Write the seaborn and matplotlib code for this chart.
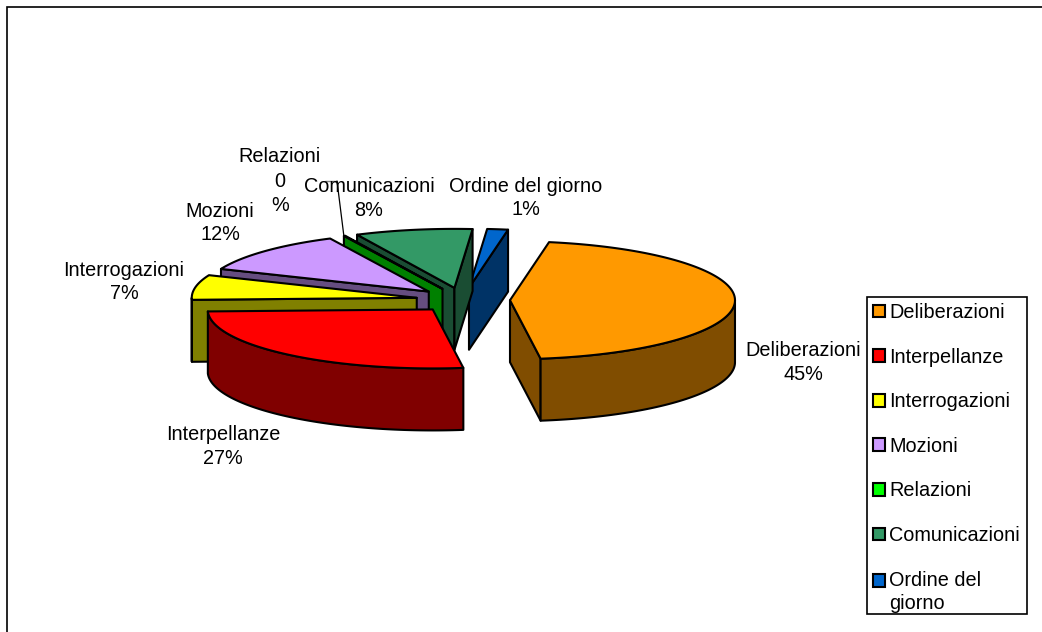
import numpy as np
import matplotlib
matplotlib.use("Agg")
import matplotlib.pyplot as plt
from matplotlib.patches import Polygon, Patch, Rectangle
from matplotlib.legend_handler import HandlerPatch
import seaborn as sns

# ---- data -------------------------------------------------------------
categories = ["Deliberazioni", "Interpellanze", "Interrogazioni", "Mozioni",
              "Relazioni", "Comunicazioni", "Ordine del giorno"]
shares = [45.0, 26.6, 6.8, 11.5, 0.1, 8.4, 1.49]
top_colors = ["#FF9900", "#FF0000", "#FFFF00", "#CC99FF",
              "#00FF00", "#339966", "#0066CC"]
legend_names = ["Deliberazioni", "Interpellanze", "Interrogazioni", "Mozioni",
                "Relazioni", "Comunicazioni", "Ordine del\ngiorno"]

# ---- style / layout ----------------------------------------------------
sns.set_theme(style="white")
plt.rcParams["font.family"] = ["Liberation Sans", "DejaVu Sans"]
plt.rcParams["text.color"] = "black"
FS = 14.3
LINESP = 1.31
palette = sns.color_palette(top_colors)
W, H = 1042, 632
CX, CY = 463.0, 300.0     # pie centre
RX, RY = 225.0, 59.0      # ellipse radii
DEPTH = 62.0              # extrusion height
EXPLODE = 47.0            # explosion, in radial units of RX
START = 80.0              # first boundary, degrees
LW = 1.5

fig = plt.figure(figsize=(W / 100, H / 100), dpi=100)
ax = fig.add_axes([0, 0, 1, 1])
ax.set_xlim(0, W)
ax.set_ylim(H, 0)
ax.axis("off")

# chart frame: only its left and top edges fall inside the picture
ax.plot([6.5, 6.5, W + 2], [H + 2, 6.5, 6.5], color="black", lw=1.2,
        solid_joinstyle="miter", zorder=1)


def ell(cx, cy, t):
    t = np.radians(t)
    return np.column_stack([cx + RX * np.cos(t), cy - RY * np.sin(t)])


def dark(c):
    return tuple(v * 0.5 for v in c)


fractions = np.array(shares) / np.sum(shares) * 360.0
bounds = START - np.concatenate([[0], np.cumsum(fractions)])

slices = []
for i, c in enumerate(palette):
    t0, t1 = bounds[i], bounds[i + 1]      # t0 > t1 : clockwise
    mid = np.radians((t0 + t1) / 2)
    cx = CX + EXPLODE * np.cos(mid)
    cy = CY - EXPLODE * RY / RX * np.sin(mid)
    slices.append((t0, t1, cx, cy, c))

z = 5
# back-to-front order
for idx in [6, 5, 4, 3, 2, 1, 0]:
    t0, t1, cx, cy, c = slices[idx]
    d = dark(c)
    kw = dict(edgecolor="black", linewidth=LW, joinstyle="round")
    apex = np.array([cx, cy])
    # radial walls
    for t in (t0, t1):
        p = ell(cx, cy, t)[0]
        q = ell(cx, cy, (t0 + t1) / 2)[0]
        e = p - apex
        n = np.array([-e[1], e[0]])
        if np.dot(n, q - apex) > 0:
            n = -n
        if n[1] > 0:  # outward normal points down the screen: wall is visible
            quad = [apex, p, p + [0, DEPTH], apex + [0, DEPTH]]
            ax.add_patch(Polygon(quad, closed=True, facecolor=d, zorder=z, **kw))
            z += 1
    # rim: front part of the arc only
    ts = np.linspace(t0, t1, 240)
    front = ts[np.sin(np.radians(ts)) <= 0]
    if front.size > 1:
        up = ell(cx, cy, front)
        rim = np.vstack([up, up[::-1] + [0, DEPTH]])
        ax.add_patch(Polygon(rim, closed=True, facecolor=d, zorder=z, **kw))
        z += 1
    # top face
    top = np.vstack([apex, ell(cx, cy, ts)])
    ax.add_patch(Polygon(top, closed=True, facecolor=c, zorder=z, **kw))
    z += 1

# data labels
label_pos = [(803, 362.5), (223, 446.5), (124, 282), (220, 223), (280, 181),
             (369, 198.5), (526, 198)]
for i, (name, (x, y)) in enumerate(zip(categories, label_pos)):
    if name == "Relazioni":
        ax.text(x, y - 25, name, ha="center", va="center", fontsize=FS,
                color="black", zorder=100)
        ax.text(x, y + 12.5, f"{shares[i]:.0f}\n%", ha="center", va="center",
                fontsize=FS, linespacing=LINESP, color="black", zorder=100)
    else:
        ax.text(x, y, f"{name}\n{shares[i]:.0f}%", ha="center", va="center",
                fontsize=FS, linespacing=LINESP, color="black", zorder=100)

# leader line of the Relazioni label
ax.plot([325, 337], [181, 181], color="#808080", lw=1, zorder=99)
ax.plot([337, 344], [181, 237], color="black", lw=0.9, zorder=99)


class FirstLineHandler(HandlerPatch):
    """Legend key aligned with the first line of a two-line entry."""

    def __init__(self, lift):
        super().__init__()
        self.lift = lift

    def create_artists(self, legend, orig_handle, xdescent, ydescent, width,
                       height, fontsize, trans):
        p = Rectangle((-xdescent, -ydescent + self.lift), width, height)
        self.update_prop(p, orig_handle, legend)
        p.set_transform(trans)
        return [p]


# legend box and entries
ax.add_patch(Rectangle((866.5, 296.5), 160, 317.5, facecolor="white",
                       edgecolor="black", linewidth=1.2, zorder=150))
handles = [Patch(facecolor=c, edgecolor="black", linewidth=LW) for c in palette]
leg = ax.legend(handles, legend_names, loc="upper left",
                bbox_to_anchor=(866 / W, 1 - 296 / H), bbox_transform=fig.transFigure,
                fontsize=FS, frameon=False,
                handlelength=0.62, handleheight=0.62, handletextpad=0.2,
                labelspacing=1.29, borderpad=0.35, borderaxespad=0,
                handler_map={handles[-1]: FirstLineHandler(8.5)})
for t in leg.get_texts():
    t.set_linespacing(LINESP)
    t.set_color("black")
leg.set_zorder(200)

fig.savefig("out.png", dpi=100)
